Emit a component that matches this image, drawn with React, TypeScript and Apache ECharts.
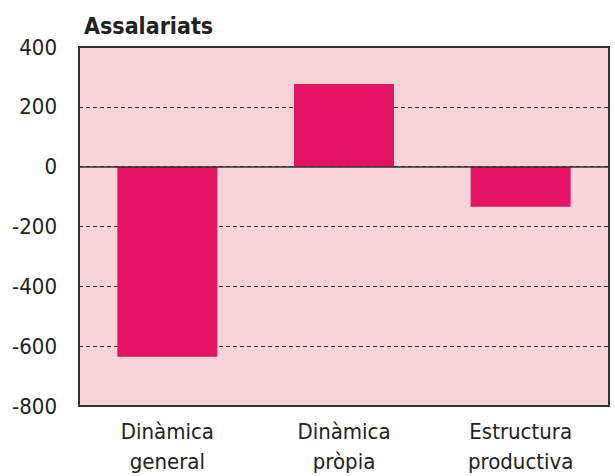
import React, { useEffect, useRef } from "react";
import * as echarts from "echarts";

const categories = ["Dinàmica\ngeneral", "Dinàmica\npròpia", "Estructura\nproductiva"];
const values = [-635, 276, -134];
const yTicks = { min: -800, max: 400, interval: 200 };
const title = "Assalariats";

const FONT = '"Liberation Sans Narrow", "DejaVu Sans Condensed", "Roboto", sans-serif';

export default function App() {
  const ref = useRef<HTMLDivElement>(null);
  useEffect(() => {
    if (!ref.current) return;
    const chart = echarts.init(ref.current, null, { renderer: "svg" });
    chart.setOption({
      animation: false,
      backgroundColor: "#ffffff",
      title: {
        text: title,
        left: 79,
        top: 9,
        textStyle: { fontFamily: FONT, fontWeight: "bold", fontSize: 23, color: "#222" },
      },
      grid: {
        left: 79,
        right: 6,
        top: 47,
        bottom: 70,
        outerBoundsMode: "none",
        containLabel: false,
        show: true,
        backgroundColor: "#f8d3d8",
        borderColor: "#333",
        borderWidth: 2,
      },
      xAxis: {
        type: "category",
        data: categories,
        axisLine: { onZero: false, lineStyle: { color: "#333", width: 2 } },
        axisTick: { show: false },
        axisLabel: {
          interval: 0,
          margin: 10,
          fontFamily: FONT,
          fontSize: 22,
          lineHeight: 30,
          color: "#222",
        },
      },
      yAxis: {
        type: "value",
        min: yTicks.min,
        max: yTicks.max,
        interval: yTicks.interval,
        axisLine: { show: false },
        axisTick: { show: false },
        axisLabel: { fontFamily: FONT, fontSize: 22, color: "#222", margin: 22 },
        splitLine: { lineStyle: { color: "#333", type: [4, 3], width: 1 } },
      },
      series: [
        {
          type: "bar",
          data: values,
          barWidth: "56.6%",
          itemStyle: { color: "#e51363" },
          markLine: {
            silent: true,
            symbol: "none",
            label: { show: false },
            lineStyle: { color: "#333", type: "solid", width: 1.5 },
            data: [{ yAxis: 0 }],
          },
        },
      ],
    });
    return () => chart.dispose();
  }, []);
  return (
    <div
      ref={ref}
      style={{ position: "fixed", left: 0, top: 0, width: 615, height: 476 }}
    />
  );
}
